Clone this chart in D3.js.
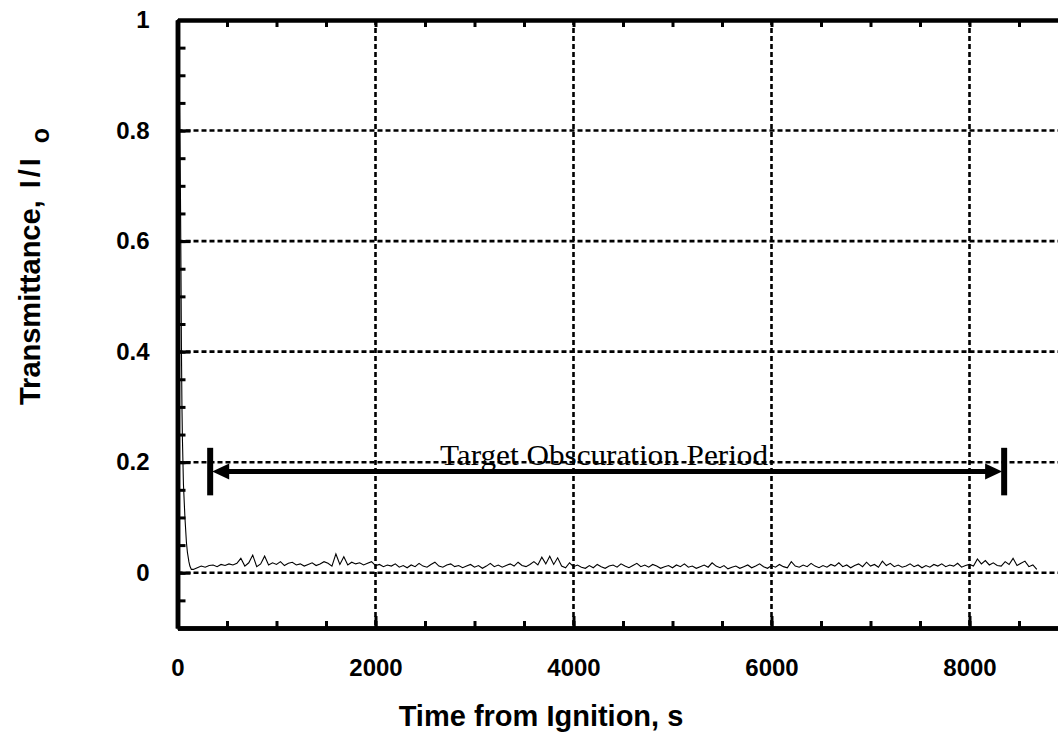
<!DOCTYPE html>
<html>
<head>
<meta charset="utf-8">
<script src="https://cdn.jsdelivr.net/npm/d3@7"></script>
<style>
  html, body { margin: 0; padding: 0; background: #fff; }
  svg { display: block; }
</style>
</head>
<body>
<svg id="chart" width="1058" height="737"></svg>
<script>
// ---------- data ----------
const xTicks = [0, 2000, 4000, 6000, 8000];
const yTicks = [0, 0.2, 0.4, 0.6, 0.8, 1];
const yTickLabels = ["0", "0.2", "0.4", "0.6", "0.8", "1"];
const xTickLabels = ["0", "2000", "4000", "6000", "8000"];

// initial decay after ignition
const decayTime = [0, 10, 20, 30, 35, 40, 45, 50, 60, 75, 90, 100, 115, 125, 140];
const decayValue = [0.98, 0.93, 0.85, 0.68, 0.55, 0.40, 0.30, 0.24, 0.16, 0.10, 0.055, 0.037, 0.020, 0.012, 0.006];

// steady obscured period, sampled every 40 s from 160 s
const steadyStart = 160, steadyStep = 40;
const steadyValue = [
  0.006,0.009,0.012,0.010,0.013,0.014,0.011,0.015,0.013,0.016,
  0.014,0.017,0.026,0.012,0.018,0.032,0.011,0.016,0.030,0.014,
  0.018,0.015,0.020,0.013,0.017,0.019,0.014,0.016,0.012,0.015,
  0.018,0.013,0.016,0.020,0.017,0.012,0.034,0.015,0.029,0.014,
  0.019,0.016,0.018,0.014,0.017,0.020,0.013,0.015,0.011,0.014,
  0.012,0.016,0.010,0.013,0.009,0.014,0.011,0.017,0.012,0.010,
  0.015,0.019,0.012,0.010,0.014,0.016,0.011,0.013,0.009,0.012,
  0.015,0.010,0.013,0.008,0.012,0.017,0.011,0.014,0.010,0.013,
  0.016,0.012,0.019,0.013,0.011,0.015,0.020,0.014,0.028,0.016,
  0.030,0.015,0.027,0.012,0.009,0.018,0.011,0.014,0.010,0.008,
  0.013,0.009,0.015,0.011,0.008,0.012,0.014,0.010,0.016,0.012,
  0.009,0.013,0.017,0.011,0.014,0.010,0.015,0.012,0.008,0.011,
  0.013,0.009,0.014,0.011,0.016,0.010,0.012,0.008,0.011,0.014,
  0.010,0.018,0.012,0.009,0.013,0.007,0.010,0.012,0.008,0.011,
  0.014,0.009,0.012,0.016,0.011,0.008,0.013,0.010,0.015,0.011,
  0.009,0.020,0.012,0.010,0.014,0.011,0.017,0.012,0.009,0.013,
  0.010,0.015,0.012,0.018,0.011,0.014,0.009,0.013,0.016,0.011,
  0.019,0.012,0.015,0.010,0.021,0.013,0.017,0.011,0.014,0.010,
  0.012,0.016,0.011,0.014,0.009,0.013,0.010,0.015,0.012,0.016,
  0.011,0.014,0.012,0.017,0.010,0.013,0.015,0.012,0.025,0.016,
  0.022,0.014,0.018,0.013,0.012,0.020,0.015,0.026,0.013,0.017,
  0.021,0.011,0.014,0.006
];

// annotation
const periodStart = 330, periodEnd = 8350, periodLevel = 0.183, periodBarHalf = 0.043;
const periodLabel = "Target Obscuration Period";

// ---------- build series ----------
const series = decayTime.map((t, i) => ({ t, v: decayValue[i] }))
  .concat(steadyValue.map((v, i) => ({ t: steadyStart + i * steadyStep, v })));

// ---------- layout ----------
const svg = d3.select("#chart");
const L = 177.5, R = 1068.5, T = 20, B = 628;
const x = d3.scaleLinear().domain([0, 9000]).range([L, R]);
const y = d3.scaleLinear().domain([-0.1, 1]).range([B, T]);

svg.append("rect").attr("width", 1058).attr("height", 737).attr("fill", "#fff");

// grid
const grid = svg.append("g").attr("stroke", "#000").attr("stroke-width", 2.6).attr("stroke-dasharray", "5,3");
grid.selectAll("line.h").data(yTicks.filter(d => d < 1)).join("line")
  .attr("x1", L).attr("x2", R).attr("y1", d => y(d)).attr("y2", d => y(d));
grid.selectAll("line.v").data(xTicks.filter(d => d > 0)).join("line")
  .attr("y1", T).attr("y2", B).attr("x1", d => x(d)).attr("x2", d => x(d));

// data line
svg.append("clipPath").attr("id", "clip").append("rect")
  .attr("x", L).attr("y", T).attr("width", R - L).attr("height", B - T);
svg.append("path").datum(series)
  .attr("clip-path", "url(#clip)")
  .attr("fill", "none").attr("stroke", "#000").attr("stroke-width", 1.1)
  .attr("d", d3.line().x(d => x(d.t)).y(d => y(d.v)));

// axes
const minorX = d3.range(0, 9001, 500);
const minorY = d3.range(-0.1, 1.0001, 0.05).map(v => +v.toFixed(2));
function styleAxis(g) {
  g.select(".domain").attr("stroke", "#000").attr("stroke-width", 4.5);
  g.selectAll(".tick line").attr("stroke", "#000").attr("stroke-width", 3);
  g.selectAll("text").attr("fill", "#000");
}
// minor ticks
svg.append("g").attr("transform", `translate(0,${B})`)
  .call(d3.axisBottom(x).tickValues(minorX).tickSizeInner(-7).tickSizeOuter(0).tickFormat(""))
  .call(styleAxis);
svg.append("g").attr("transform", `translate(0,${T})`)
  .call(d3.axisTop(x).tickValues(minorX).tickSizeInner(-7).tickSizeOuter(0).tickFormat(""))
  .call(styleAxis);
svg.append("g").attr("transform", `translate(${L},0)`)
  .call(d3.axisLeft(y).tickValues(minorY).tickSizeInner(-8).tickSizeOuter(0).tickFormat(""))
  .call(styleAxis);
svg.append("g").attr("transform", `translate(${R},0)`)
  .call(d3.axisRight(y).tickValues(minorY).tickSizeInner(-8).tickSizeOuter(0).tickFormat(""))
  .call(styleAxis);
// major ticks with labels
const xAxisG = svg.append("g").attr("transform", `translate(0,${B})`)
  .call(d3.axisBottom(x).tickValues(xTicks).tickSizeInner(-12).tickSizeOuter(0).tickPadding(31)
    .tickFormat((d, i) => xTickLabels[i]))
  .call(styleAxis);
const yAxisG = svg.append("g").attr("transform", `translate(${L},0)`)
  .call(d3.axisLeft(y).tickValues(yTicks).tickSizeInner(-13).tickSizeOuter(0).tickPadding(28)
    .tickFormat((d, i) => yTickLabels[i]))
  .call(styleAxis);
[xAxisG, yAxisG].forEach(g => g.selectAll("text")
  .attr("font-family", "'Liberation Sans', Arial, sans-serif")
  .attr("font-weight", "bold").attr("font-size", 24));

// annotation arrow
const ann = svg.append("g");
const ay = y(periodLevel);
ann.append("line").attr("x1", x(periodStart) + 10).attr("x2", x(periodEnd) - 10)
  .attr("y1", ay).attr("y2", ay).attr("stroke", "#000").attr("stroke-width", 5);
[periodStart, periodEnd].forEach(t => {
  ann.append("line").attr("x1", x(t)).attr("x2", x(t))
    .attr("y1", y(periodLevel + periodBarHalf)).attr("y2", y(periodLevel - periodBarHalf))
    .attr("stroke", "#000").attr("stroke-width", 6);
});
const hx1 = x(periodStart) + 2, hx2 = x(periodEnd) - 2;
ann.append("path").attr("fill", "#000")
  .attr("d", `M${hx1},${ay} L${hx1 + 17},${ay - 8} L${hx1 + 17},${ay + 8} Z`);
ann.append("path").attr("fill", "#000")
  .attr("d", `M${hx2},${ay} L${hx2 - 17},${ay - 8} L${hx2 - 17},${ay + 8} Z`);
ann.append("text").attr("x", 604).attr("y", ay - 7)
  .attr("text-anchor", "middle")
  .attr("font-family", "'Liberation Serif', 'Times New Roman', serif")
  .attr("font-size", 29).attr("textLength", 328).attr("lengthAdjust", "spacingAndGlyphs")
  .attr("fill", "#000").text(periodLabel);

// axis titles
svg.append("text").attr("x", 541).attr("y", 726).attr("text-anchor", "middle")
  .attr("font-family", "'Liberation Sans', Arial, sans-serif").attr("font-weight", "bold")
  .attr("font-size", 29).attr("fill", "#000").text("Time from Ignition, s");

const yt = svg.append("text").attr("transform", "translate(40,405) rotate(-90)")
  .attr("text-anchor", "start")
  .attr("font-family", "'Liberation Sans', Arial, sans-serif").attr("font-weight", "bold")
  .attr("font-size", 29).attr("fill", "#000");
yt.append("tspan").text("Transmittance,");
yt.append("tspan").attr("dx", 12).attr("letter-spacing", 3).text("I/I");
yt.append("tspan").attr("dx", 12).attr("dy", 9).attr("font-size", 25).text("o");
</script>
</body>
</html>
